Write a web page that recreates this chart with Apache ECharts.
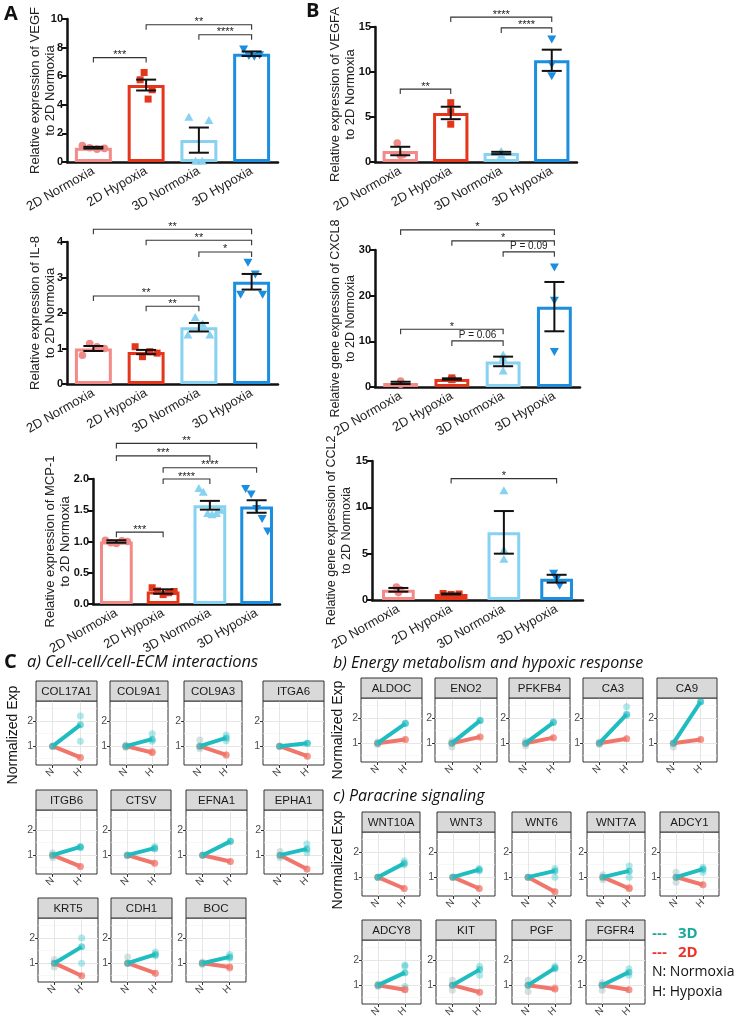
<!DOCTYPE html>
<html><head><meta charset="utf-8">
<script src="https://cdn.jsdelivr.net/npm/echarts@6/dist/echarts.min.js"></script>
<style>html,body{margin:0;padding:0;background:#fff}#c{width:734px;height:1023px}</style>
</head><body><div id="c"></div>
<script>
// ---------- data: panels A / B ----------
const groups = ['2D Normoxia', '2D Hypoxia', '3D Normoxia', '3D Hypoxia'];

const vegfMean = [1.0, 5.38, 1.53, 7.57];
const vegfSem = [0.06, 0.38, 0.88, 0.16];
const vegfPoints = [[1.15, 1.0, 0.9, 0.95], [5.75, 6.26, 4.4, 5.05], [3.13, 0.05, 0.05, 2.9], [7.9, 7.45, 7.4, 7.5]];
const vegfSig = [[0, 1, 7.3, '***'], [1, 3, 9.6, '**'], [2, 3, 8.9, '****']];

const vegfaMean = [1.22, 5.45, 1.0, 11.3];
const vegfaSem = [0.47, 0.69, 0.13, 1.18];
const vegfaPoints = [[2.1, 0.74, 0.82], [6.59, 5.58, 4.2], [0.75, 1.1, 1.15], [13.66, 10.9, 9.57]];
const vegfaSig = [[0, 1, 8.1, '**'], [1, 3, 16.1, '****'], [2, 3, 14.9, '****']];

const il8Mean = [1.0, 0.9, 1.6, 2.88];
const il8Sem = [0.07, 0.06, 0.12, 0.22];
const il8Points = [[0.81, 1.14, 1.05, 1.0], [1.05, 0.77, 0.91, 0.87], [1.38, 1.87, 1.69, 1.38], [2.53, 3.43, 3.1, 2.53]];
const il8Sig = [[0, 3, 4.36, '**'], [1, 3, 4.05, '**'], [2, 3, 3.72, '*'], [0, 2, 2.48, '**'], [1, 2, 2.19, '**']];

const cxcl8Mean = [0.9, 1.75, 5.6, 17.6];
const cxcl8Sem = [0.25, 0.15, 1.05, 5.4];
const cxcl8Points = [[1.3, 0.6, 0.9], [2.0, 1.6, 1.65], [7.0, 6.3, 3.5], [26.3, 19.0, 7.8]];
const cxcl8Sig = [[0, 3, 34.4, '*'], [1, 3, 32.0, '*'], [2, 3, 29.6, 'P = 0.09'], [0, 2, 12.65, '*'], [1, 2, 10.1, 'P = 0.06']];

const mcp1Mean = [1.0, 0.2, 1.58, 1.56];
const mcp1Sem = [0.02, 0.035, 0.07, 0.1];
const mcp1Points = [[1.02, 0.98, 0.97, 1.01, 1.0], [0.26, 0.21, 0.15, 0.18, 0.2], [1.85, 1.79, 1.45, 1.43, 1.45, 1.5], [1.85, 1.76, 1.53, 1.37, 1.17]];
const mcp1Sig = [[0, 3, 2.57, '**'], [0, 2, 2.37, '***'], [1, 3, 2.18, '****'], [1, 2, 2.0, '****'], [0, 1, 1.15, '***']];

const ccl2Mean = [1.1, 0.65, 7.3, 2.3];
const ccl2Sem = [0.2, 0.05, 2.3, 0.42];
const ccl2Points = [[1.4, 0.8, 1.1], [0.7, 0.6, 0.65], [11.8, 5.4, 4.4], [2.9, 2.3, 1.6]];
const ccl2Sig = [[1, 3, 13.1, '*']];

// ---------- data: panel C ----------
const geneNames = ['COL17A1', 'COL9A1', 'COL9A3', 'ITGA6', 'ITGB6', 'CTSV', 'EFNA1', 'EPHA1', 'KRT5', 'CDH1', 'BOC',
  'ALDOC', 'ENO2', 'PFKFB4', 'CA3', 'CA9',
  'WNT10A', 'WNT3', 'WNT6', 'WNT7A', 'ADCY1', 'ADCY8', 'KIT', 'PGF', 'FGFR4'];
const h3D = [1.85, 1.28, 1.33, 1.12, 1.33, 1.28, 1.55, 1.25, 1.65, 1.35, 1.25,
  1.78, 1.9, 1.82, 2.15, 2.65,
  1.55, 1.3, 1.25, 1.25, 1.32, 1.5, 1.62, 1.68, 1.52];
const h2D = [0.55, 0.75, 0.65, 0.6, 0.55, 0.68, 0.75, 0.45, 0.5, 0.6, 0.85,
  1.15, 1.25, 1.22, 1.18, 1.15,
  0.55, 0.55, 0.42, 0.55, 0.7, 0.82, 0.72, 0.85, 0.82];
const reps3DH = [[2.2, 1.2], [1.5, 1.2], [1.45, 1.22], [1.12], [1.35, 1.3], [1.35, 1.25], [1.55], [1.45, 1.1], [2.0, 1.0], [1.45, 1.3], [1.35, 1.2],
  [1.8], [1.9], [1.85], [2.45, 2.1], [2.65],
  [1.65, 1.5], [1.35, 1.25], [1.35, 1.0], [1.45, 1.0], [1.4, 1.2], [1.8, 1.75, 0.95], [1.75, 1.4], [1.75, 1.65], [1.65, 1.4]];
const reps2DH = [[0.55], [0.75, 0.8], [0.65], [0.6], [0.55], [0.68], [0.75], [0.45], [0.5], [0.6], [0.85, 0.8],
  [1.15], [1.25], [1.22], [1.18], [1.15],
  [0.55], [0.55], [0.42], [0.55, 0.6], [0.7], [0.82, 0.85], [0.72], [0.85, 0.9], [0.82]];
const repsN = [[1.0], [1.05, 0.95], [1.25, 0.9], [1.0], [1.1, 0.9], [1.0], [1.0], [1.15, 0.9], [1.15, 0.85], [1.25, 1.0], [1.05, 0.95],
  [1.05, 0.95], [1.1, 0.85], [1.1, 0.9], [1.05, 0.95], [1.0, 0.85],
  [1.0], [1.0], [1.0], [1.1, 0.9], [1.2, 0.8], [1.05, 0.95], [1.2, 0.8], [1.2, 0.75], [1.1, 0.8]];
const smallTicks = [1, 2];
const smallXLabels = ['N', 'H'];

// ---------- layout / style ----------
const FONT = 'Liberation Sans';
const groupColors = ['#f28a88', '#e5361c', '#86d2f0', '#1b8ee0'];
const col3D = '#1fbcc0', col2D = '#f0766b';

// [left, plotTop, width]
const smallLayout = [
  [36, 701, 61], [110, 701, 58], [184, 701, 58], [263, 701, 61],
  [36, 810, 61], [111, 810, 60], [186, 810, 61], [264, 810, 59],
  [38, 918, 60], [111, 918, 61], [186, 918, 60],
  [361, 698, 61], [435, 698, 62], [509, 698, 61], [583, 698, 60], [657, 698, 60],
  [362, 832, 58], [437, 832, 58], [512, 832, 59], [587, 832, 58], [660, 832, 59],
  [362, 940, 59], [436, 940, 60], [512, 940, 59], [586, 940, 59]];
const SMALL_H = 64, STRIP_H = 20;

const grids = [], xAxes = [], yAxes = [], series = [], graphics = [];

function addBar(cfg) {
  const gi = grids.length;
  grids.push({ left: cfg.box[0], top: cfg.box[1], width: cfg.box[2], height: cfg.box[3] });
  xAxes.push({
    gridIndex: gi, type: 'category', data: groups,
    axisLine: { lineStyle: { color: '#111', width: 2.5 } },
    axisTick: { alignWithLabel: true, length: 5, lineStyle: { color: '#111', width: 2 } },
    axisLabel: { rotate: 30, interval: 0, fontSize: 13, color: '#222', margin: 8, fontFamily: FONT }
  });
  yAxes.push({
    gridIndex: gi, type: 'value', min: 0, max: cfg.max, interval: cfg.interval,
    name: cfg.name, nameLocation: 'middle', nameGap: cfg.nameGap, nameMoveOverlap: false,
    nameTextStyle: { fontSize: cfg.nameSize || 13, color: '#222', lineHeight: 15, fontFamily: FONT, align: 'center' },
    axisLine: { show: true, lineStyle: { color: '#111', width: 2.5 } },
    axisTick: { show: true, length: 5, lineStyle: { color: '#111', width: 2 } },
    axisLabel: { fontSize: 11, fontWeight: 'bold', color: '#111', margin: 4, fontFamily: FONT,
      formatter: v => cfg.dec ? v.toFixed(1) : String(v) },
    splitLine: { show: false }
  });
  series.push({
    type: 'bar', xAxisIndex: gi, yAxisIndex: gi, barWidth: cfg.barWidth, silent: true, z: 2,
    data: cfg.mean.map((v, i) => ({ value: v, itemStyle: { borderColor: groupColors[i] } })),
    itemStyle: { color: 'rgba(255,255,255,0)', borderWidth: 3 }
  });
  const pts = [];
  cfg.points.forEach((arr, ci) => arr.forEach((v, k) => pts.push([ci, v, k, arr.length])));
  const spread = cfg.spread;
  series.push({
    type: 'custom', xAxisIndex: gi, yAxisIndex: gi, silent: true, z: 3, data: pts,
    renderItem: (p, api) => {
      const ci = api.value(0), n = api.value(3), k = api.value(2);
      const c = api.coord([ci, api.value(1)]);
      const sp = spread[ci];
      const x = c[0] + (n > 1 ? -sp + 2 * sp * k / (n - 1) : 0), y = c[1];
      const style = { fill: groupColors[ci] };
      if (ci === 0) return { type: 'circle', shape: { cx: x, cy: y, r: 3.8 }, style };
      if (ci === 1) return { type: 'rect', shape: { x: x - 3.5, y: y - 3.5, width: 7, height: 7 }, style };
      if (ci === 2) return { type: 'polygon', shape: { points: [[x, y - 4.5], [x + 4.5, y + 3.5], [x - 4.5, y + 3.5]] }, style };
      return { type: 'polygon', shape: { points: [[x, y + 4.5], [x + 4.5, y - 3.5], [x - 4.5, y - 3.5]] }, style };
    }
  });
  series.push({
    type: 'custom', xAxisIndex: gi, yAxisIndex: gi, silent: true, z: 4,
    data: cfg.mean.map((m, i) => [i, m, cfg.sem[i]]),
    renderItem: (p, api) => {
      const i = api.value(0), m = api.value(1), s = api.value(2);
      const t = api.coord([i, m + s]), b = api.coord([i, m - s]);
      const st = { stroke: '#111', lineWidth: 2 };
      return { type: 'group', children: [
        { type: 'line', shape: { x1: t[0], y1: t[1], x2: b[0], y2: b[1] }, style: st },
        { type: 'line', shape: { x1: t[0] - 10, y1: t[1], x2: t[0] + 10, y2: t[1] }, style: st },
        { type: 'line', shape: { x1: b[0] - 10, y1: b[1], x2: b[0] + 10, y2: b[1] }, style: st }
      ] };
    }
  });
  series.push({
    type: 'custom', xAxisIndex: gi, yAxisIndex: gi, silent: true, z: 5, clip: false,
    data: cfg.sig.map(s => [s[0], s[2], s[1]]),
    encode: { x: 0, y: 1 },
    renderItem: (p, api) => {
      const a = api.coord([api.value(0), api.value(1)]);
      const b = api.coord([api.value(2), api.value(1)]);
      const lab = cfg.sig[p.dataIndex][3];
      const isP = lab[0] === 'P';
      return { type: 'group', children: [
        { type: 'polyline', shape: { points: [[a[0], a[1] + 5], [a[0], a[1]], [b[0], b[1]], [b[0], b[1] + 5]] },
          style: { stroke: '#333', lineWidth: 1.1, fill: null } },
        { type: 'text', x: (a[0] + b[0]) / 2, y: isP ? a[1] - 1 : a[1] - 8,
          style: { text: lab, fontSize: isP ? 10 : 11, fontFamily: FONT, fill: '#222',
            align: 'center', verticalAlign: isP ? 'bottom' : 'top' } }
      ] };
    }
  });
}

const A = 11, B0 = [0, 0, 0, 0];
addBar({ box: [67, 19, 211, 143], max: 10, interval: 2, name: 'Relative expression of VEGF\nto 2D Normoxia', nameGap: 9,
  mean: vegfMean, sem: vegfSem, points: vegfPoints, sig: vegfSig, barWidth: '70%', spread: [A, 6, 10, 8] });
addBar({ box: [375, 27, 202, 135], max: 15, interval: 5, name: 'Relative expression of VEGFA\nto 2D Normoxia', nameGap: 17,
  mean: vegfaMean, sem: vegfaSem, points: vegfaPoints, sig: vegfaSig, barWidth: '70%', spread: [3, 0, 0, 0] });
addBar({ box: [67, 242, 211, 142], max: 4, interval: 1, name: 'Relative expression of IL-8\nto 2D Normoxia', nameGap: 9,
  mean: il8Mean, sem: il8Sem, points: il8Points, sig: il8Sig, barWidth: '70%', spread: [A, A, A, A] });
addBar({ box: [375, 250, 205, 137], max: 30, interval: 10, name: 'Relative gene expression of CXCL8\nto 2D Normoxia', nameGap: 17, nameSize: 12.5,
  mean: cxcl8Mean, sem: cxcl8Sem, points: cxcl8Points, sig: cxcl8Sig, barWidth: '68%', spread: B0 });
addBar({ box: [93, 479, 187, 125], max: 2, interval: 0.5, dec: true, name: 'Relative expression of MCP-1\nto 2D Normoxia', nameGap: 20,
  mean: mcp1Mean, sem: mcp1Sem, points: mcp1Points, sig: mcp1Sig, barWidth: '70%', spread: [A, A, A, A] });
addBar({ box: [372, 461, 211, 139], max: 15, interval: 5, name: 'Relative gene expression of CCL2\nto 2D Normoxia', nameGap: 18, nameSize: 12.5,
  mean: ccl2Mean, sem: ccl2Sem, points: ccl2Points, sig: ccl2Sig, barWidth: '62%', spread: [2, 8, 0, 3] });

function addSmall(g) {
  const gi = grids.length;
  const [left, top, w] = smallLayout[g];
  grids.push({ left, top, width: w, height: SMALL_H, show: true, backgroundColor: '#fff', borderColor: '#333', borderWidth: 1 });
  xAxes.push({
    gridIndex: gi, type: 'value', min: 0.4, max: 2.6,
    axisLine: { show: false }, splitLine: { show: false },
    axisTick: { show: true, customValues: smallTicks, length: 3, lineStyle: { color: '#333' } },
    axisLabel: { customValues: smallTicks, formatter: v => smallXLabels[Math.round(v) - 1], rotate: 45, fontSize: 10, color: '#4d4d4d', margin: 5, fontFamily: FONT }
  });
  yAxes.push({
    gridIndex: gi, type: 'value', min: 0.25, max: 2.8,
    axisLine: { show: false }, splitLine: { show: false },
    axisTick: { show: true, customValues: smallTicks, length: 3, lineStyle: { color: '#333' } },
    axisLabel: { customValues: smallTicks, fontSize: 10.5, color: '#4d4d4d', margin: 3, fontFamily: FONT }
  });
  const major = { color: '#e6e6e6', width: 1, type: 'solid' }, minor = { color: '#f2f2f2', width: 0.6, type: 'solid' };
  series.push({
    type: 'line', xAxisIndex: gi, yAxisIndex: gi, data: [], silent: true, z: 1,
    markLine: { silent: true, symbol: 'none', animation: false, label: { show: false }, z: 1,
      data: [{ yAxis: 0.5, lineStyle: minor }, { yAxis: 1.5, lineStyle: minor }, { yAxis: 2.5, lineStyle: minor },
        { yAxis: 1, lineStyle: major }, { yAxis: 2, lineStyle: major },
        { xAxis: 1, lineStyle: major }, { xAxis: 2, lineStyle: major }] }
  });
  const rep3 = reps3DH[g].map(v => [2, v]), rep2 = reps2DH[g].map(v => [2, v]);
  const repN = repsN[g].map(v => [1, v]);
  series.push({ type: 'scatter', xAxisIndex: gi, yAxisIndex: gi, silent: true, z: 2, symbolSize: 7,
    data: repN, itemStyle: { color: '#9fbfbf', opacity: 0.45 } });
  series.push({ type: 'scatter', xAxisIndex: gi, yAxisIndex: gi, silent: true, z: 2, symbolSize: 7,
    data: rep2, itemStyle: { color: col2D, opacity: 0.4 } });
  series.push({ type: 'scatter', xAxisIndex: gi, yAxisIndex: gi, silent: true, z: 2, symbolSize: 7,
    data: rep3, itemStyle: { color: col3D, opacity: 0.35 } });
  series.push({ type: 'line', xAxisIndex: gi, yAxisIndex: gi, silent: true, z: 3,
    data: [[1, 1], [2, h2D[g]]], symbol: 'circle', symbolSize: 7,
    lineStyle: { color: col2D, width: 4 }, itemStyle: { color: col2D, opacity: 0.6 } });
  series.push({ type: 'line', xAxisIndex: gi, yAxisIndex: gi, silent: true, z: 4,
    data: [[1, 1], [2, h3D[g]]], symbol: 'circle', symbolSize: 7,
    lineStyle: { color: col3D, width: 4 }, itemStyle: { color: col3D, opacity: 0.6 } });
  graphics.push({ type: 'rect', shape: { x: left, y: top - STRIP_H, width: w, height: STRIP_H },
    style: { fill: '#d9d9d9', stroke: '#333', lineWidth: 1 }, z: 10 });
  graphics.push({ type: 'text', x: left + w / 2, y: top - STRIP_H / 2 + 1, z: 11,
    style: { text: geneNames[g], fontSize: 11.5, fontFamily: FONT, fill: '#1a1a1a', align: 'center', verticalAlign: 'middle' } });
}
geneNames.forEach((n, g) => addSmall(g));

// text decorations
const txt = (text, x, y, extra) => graphics.push(Object.assign({ type: 'text', x, y, z: 20,
  style: Object.assign({ text, fontFamily: FONT, fill: '#111', verticalAlign: 'middle' }, extra || {}) }));
txt('A', 4, 14, { fontSize: 20, fontWeight: 'bold', fontFamily: 'Open Sans' });
txt('B', 306, 11, { fontSize: 20, fontWeight: 'bold', fontFamily: 'Open Sans' });
txt('C', 4, 662, { fontSize: 20, fontWeight: 'bold', fontFamily: 'Open Sans' });
txt('a) Cell-cell/cell-ECM interactions', 27, 662, { fontSize: 16.5, fontStyle: 'italic', fontFamily: 'Open Sans' });
txt('b) Energy metabolism and hypoxic response', 333, 663, { fontSize: 16, fontStyle: 'italic', fontFamily: 'Open Sans' });
txt('c) Paracrine signaling', 333, 796, { fontSize: 16, fontStyle: 'italic', fontFamily: 'Open Sans' });
[[13, 735], [338, 730], [338, 860]].forEach(p => graphics.push({ type: 'text', x: p[0], y: p[1], rotation: Math.PI / 2, z: 20,
  style: { text: 'Normalized Exp', fontSize: 14, fontFamily: FONT, fill: '#111', align: 'center', verticalAlign: 'middle' } }));
txt('---', 652, 934, { fontSize: 15, fill: '#1aa99c', fontWeight: 'bold' });
txt('3D', 678, 934, { fontSize: 15, fill: '#1aa99c', fontWeight: 'bold', fontFamily: 'Open Sans' });
txt('---', 652, 953, { fontSize: 15, fill: '#e8342a', fontWeight: 'bold' });
txt('2D', 678, 953, { fontSize: 15, fill: '#e8342a', fontWeight: 'bold', fontFamily: 'Open Sans' });
txt('N: Normoxia', 652, 972, { fontSize: 14, fontFamily: 'Open Sans' });
txt('H: Hypoxia', 652, 992, { fontSize: 14, fontFamily: 'Open Sans' });

const chart = echarts.init(document.getElementById('c'), null, { renderer: 'canvas' });
chart.setOption({
  animation: false, backgroundColor: '#fff',
  grid: grids, xAxis: xAxes, yAxis: yAxes, series, graphic: graphics
});
</script></body></html>
